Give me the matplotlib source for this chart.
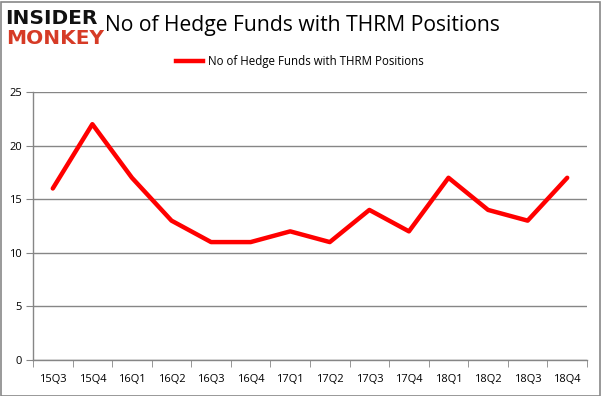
import matplotlib
matplotlib.use("Agg")
import matplotlib.pyplot as plt
from matplotlib.lines import Line2D
from matplotlib.patches import Rectangle

quarters = ["15Q3", "15Q4", "16Q1", "16Q2", "16Q3", "16Q4", "17Q1", "17Q2",
            "17Q3", "17Q4", "18Q1", "18Q2", "18Q3", "18Q4"]
funds = [16, 22, 17, 13, 11, 11, 12, 11, 14, 12, 17, 14, 13, 17]
yticks = [0, 5, 10, 15, 20, 25]
title = "No of Hedge Funds with THRM Positions"

plt.rcParams['font.family'] = ['Open Sans', 'DejaVu Sans']

W, H = 601, 396
fig = plt.figure(figsize=(W / 100, H / 100), dpi=100)
ax = fig.add_axes([33 / W, (H - 360) / H, (587 - 33) / W, (360 - 92) / H])

x = list(range(len(quarters)))
ax.plot(x, funds, color="#ff0000", lw=3.2, solid_capstyle="round", zorder=3)

ax.set_xlim(-0.5, len(quarters) - 0.5)
ax.set_ylim(0, 25)
ax.set_yticks(yticks)
ax.set_yticklabels([str(v) for v in yticks], fontsize=8)
ax.set_xticks(x)
ax.set_xticklabels(quarters, fontsize=8)
ax.tick_params(axis='x', length=0, pad=10)
ax.tick_params(axis='y', length=5, color="#868686", pad=3)
ax.set_xticks([i - 0.5 for i in range(len(quarters) + 1)], minor=True)
ax.tick_params(axis='x', which='minor', length=5, color="#868686", direction='out')
ax.grid(axis='y', color="#868686", lw=1)
ax.set_axisbelow(True)
for s in ["top", "right"]:
    ax.spines[s].set_visible(False)
for s in ["left", "bottom"]:
    ax.spines[s].set_color("#868686")
    ax.spines[s].set_linewidth(1)

fig.text(302 / W, (H - 25) / H, title, ha="center", va="center", fontsize=15.2)

# legend
fig.add_artist(Line2D([176 / W, 203 / W], [(H - 61) / H] * 2, color="#ff0000", lw=3.2,
                      transform=fig.transFigure))
fig.text(208 / W, (H - 61) / H, title, ha="left", va="center", fontsize=8.3)

# logo
fig.add_artist(Rectangle((3 / W, (H - 50) / H), 101 / W, 44 / H, transform=fig.transFigure,
                         facecolor="white", edgecolor="none", zorder=5))
fig.text(5 / W, (H - 18) / H, "INSIDER", ha="left", va="center", fontsize=14.5,
         fontweight="black", color="#111111", family="DejaVu Sans", zorder=6)
fig.text(6 / W, (H - 38) / H, "MONKEY", ha="left", va="center", fontsize=14.5,
         fontweight="black", color="#d63b26", family="DejaVu Sans", zorder=6)

# border
fig.add_artist(Rectangle((0.5 / W, 0.5 / H), (W - 2) / W, (H - 2) / H, transform=fig.transFigure,
                         facecolor="none", edgecolor="#888888", lw=1.2))

fig.savefig("out.png", dpi=100)
